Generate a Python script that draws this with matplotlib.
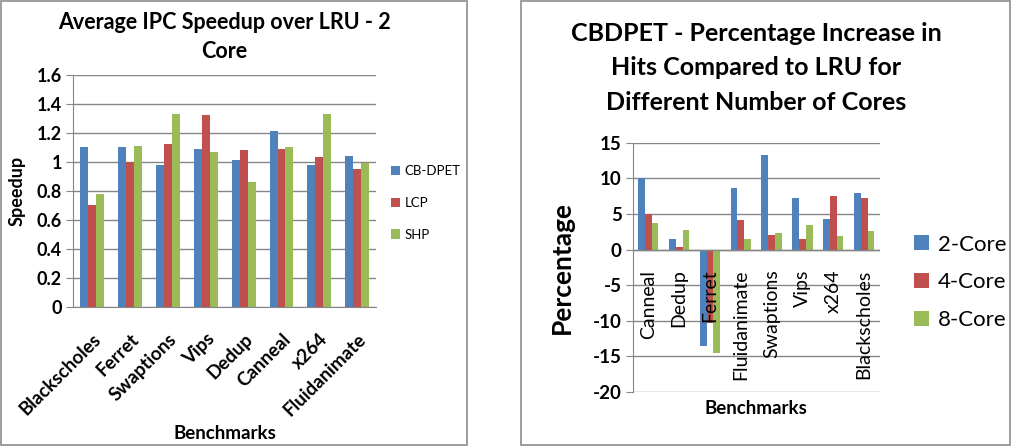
import numpy as np
import matplotlib.pyplot as plt
from matplotlib.patches import Rectangle

plt.rcParams['font.family'] = ['Lato', 'DejaVu Sans']

# left chart: IPC speedup
bench_ipc = ['Blackscholes', 'Ferret', 'Swaptions', 'Vips', 'Dedup',
             'Canneal', 'x264', 'Fluidanimate']
cbdpet = [1.10, 1.10, 0.98, 1.09, 1.01, 1.21, 0.98, 1.04]
lcp = [0.70, 1.00, 1.12, 1.32, 1.08, 1.09, 1.03, 0.95]
shp = [0.78, 1.11, 1.33, 1.07, 0.86, 1.10, 1.33, 0.99]

# right chart: hit increase per core count
bench_hits = ['Canneal', 'Dedup', 'Ferret', 'Fluidanimate', 'Swaptions',
              'Vips', 'x264', 'Blackscholes']
core2 = [10.0, 1.5, -13.5, 8.6, 13.3, 7.2, 4.3, 8.0]
core4 = [5.0, 0.4, -10.3, 4.1, 2.1, 1.5, 7.6, 7.3]
core8 = [3.7, 2.8, -14.5, 1.5, 2.4, 3.4, 1.9, 2.6]

blue, red, green = '#4F81BD', '#C0504D', '#9BBB59'
grid_c = '#868686'

fig = plt.figure(figsize=(10.11, 4.48), dpi=100)

# panel borders
fig.patches.append(Rectangle((0.001, 0.006), 0.461, 0.991, transform=fig.transFigure,
                             fill=False, edgecolor='#8c8c8c', lw=1.2))
fig.patches.append(Rectangle((0.515, 0.006), 0.484, 0.991, transform=fig.transFigure,
                             fill=False, edgecolor='#8c8c8c', lw=1.2))


def style_axes(ax):
    ax.yaxis.grid(True, color=grid_c, lw=1)
    ax.set_axisbelow(True)
    for s in ['top', 'right']:
        ax.spines[s].set_visible(False)
    ax.spines['left'].set_color(grid_c)
    ax.spines['bottom'].set_color(grid_c)
    ax.tick_params(axis='y', direction='out', length=5, color=grid_c, pad=3)
    ax.tick_params(axis='x', length=0)
    for lab in ax.get_yticklabels():
        lab.set_fontweight('bold')


# ---- left
ax1 = fig.add_axes([0.0722, 0.315, 0.300, 0.518])
x = np.arange(len(bench_ipc))
w = 0.21
ax1.bar(x - w, cbdpet, w, color=blue, label='CB-DPET')
ax1.bar(x, lcp, w, color=red, label='LCP')
ax1.bar(x + w, shp, w, color=green, label='SHP')
ax1.set_xlim(-0.5, len(bench_ipc) - 0.5)
ax1.set_ylim(0, 1.6)
ax1.set_yticks(np.arange(0, 1.61, 0.2))
ax1.set_yticklabels(['0', '0.2', '0.4', '0.6', '0.8', '1', '1.2', '1.4', '1.6'], fontsize=13)
ax1.set_xticks(x)
ax1.set_xticklabels(bench_ipc, rotation=45, ha='right', rotation_mode='anchor',
                    fontsize=13.5, fontweight='bold')
style_axes(ax1)
ax1.tick_params(axis='x', pad=17)
ax1.set_ylabel('Speedup', fontsize=13, fontweight='bold', labelpad=8)
ax1.set_xlabel('Benchmarks', fontsize=13.5, fontweight='bold', labelpad=4)
ax1.set_title('Average IPC Speedup over LRU - 2\nCore', fontsize=15.5,
              fontweight='bold', pad=12, linespacing=1.5)
ax1.legend(loc='center left', bbox_to_anchor=(1.01, 0.448), frameon=False,
           fontsize=9.5, handlelength=0.7, handleheight=0.7, labelspacing=1.5,
           handletextpad=0.3)

# ---- right
ax2 = fig.add_axes([0.626, 0.125, 0.244, 0.556])
x = np.arange(len(bench_hits))
w = 0.22
ax2.bar(x - w, core2, w, color=blue, label='2-Core')
ax2.bar(x, core4, w, color=red, label='4-Core')
ax2.bar(x + w, core8, w, color=green, label='8-Core')
ax2.set_xlim(-0.5, len(bench_hits) - 0.5)
ax2.set_ylim(-20, 15)
ax2.set_yticks(np.arange(-20, 16, 5))
ax2.set_yticklabels([str(v) for v in range(-20, 16, 5)], fontsize=13.5)
ax2.set_xticks([])
style_axes(ax2)
ax2.spines['bottom'].set_visible(False)
ax2.axhline(0, color=grid_c, lw=1)
for xi, name in zip(x, bench_hits):
    ax2.text(xi, -2.8, name, rotation=90, ha='center', va='top', fontsize=14)
ax2.set_ylabel('Percentage', fontsize=19, fontweight='bold', labelpad=14)
ax2.set_xlabel('Benchmarks', fontsize=13.5, fontweight='bold', labelpad=6)
ax2.set_title('CBDPET - Percentage Increase in\nHits Compared to LRU for\nDifferent Number of Cores',
              fontsize=18, fontweight='bold', pad=24, linespacing=1.6)
ax2.legend(loc='center left', bbox_to_anchor=(1.06, 0.44), frameon=False,
           fontsize=16, handlelength=0.65, handleheight=0.65, labelspacing=0.8,
           handletextpad=0.4)

fig.savefig('out.png', dpi=100)
